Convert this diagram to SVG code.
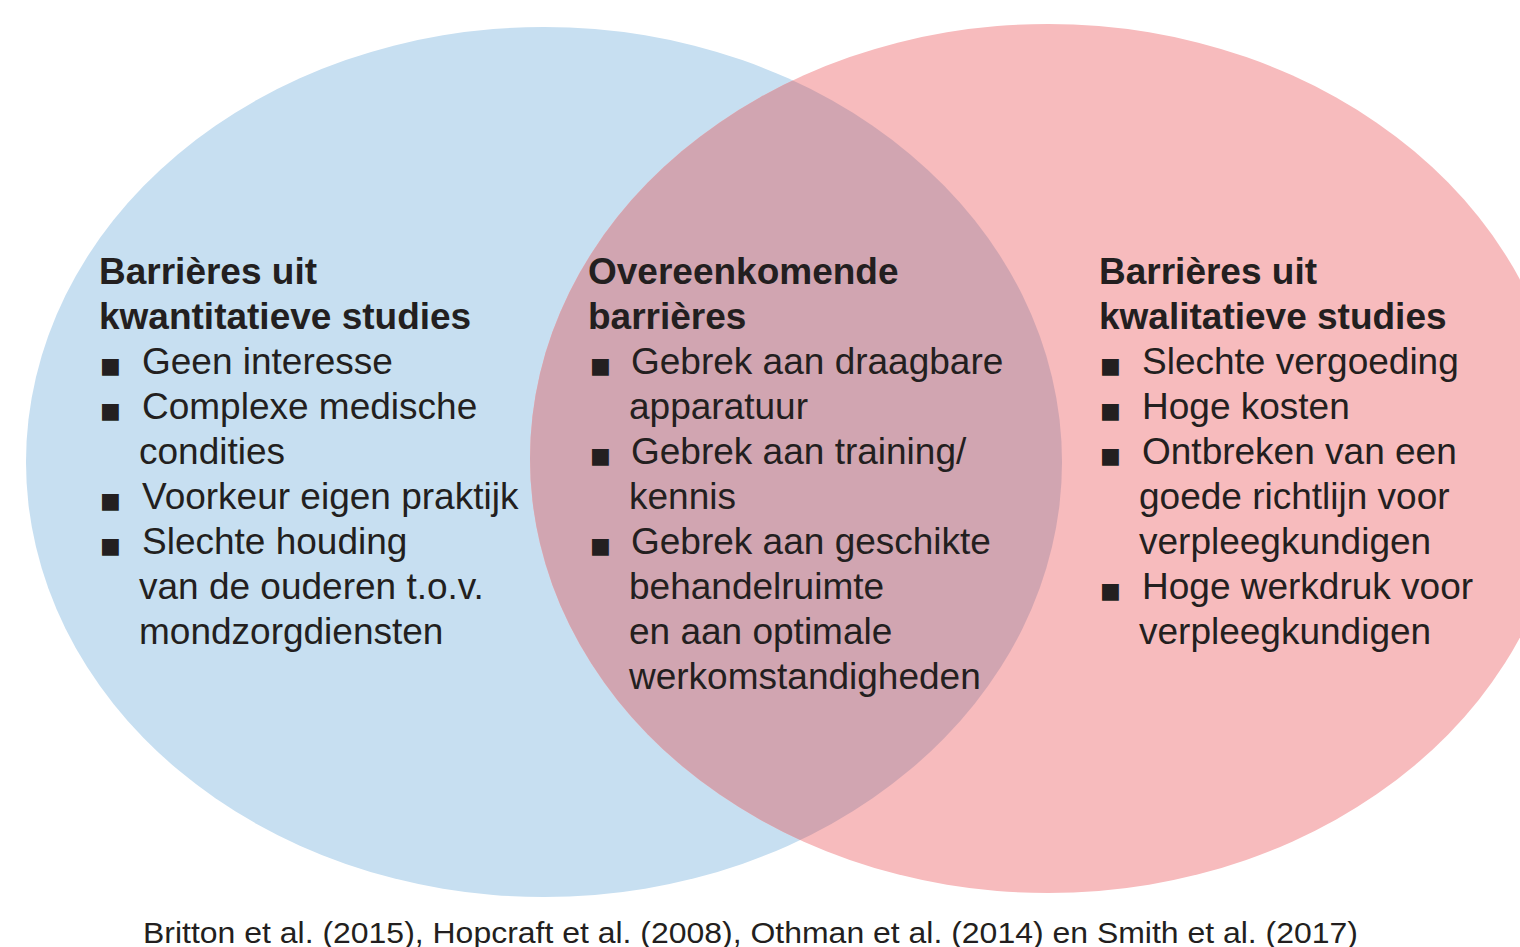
<svg xmlns="http://www.w3.org/2000/svg" width="1520" height="947" viewBox="0 0 1520 947">
<style>
text{font-family:"Liberation Sans",Arial,sans-serif;fill:#231f20}
.h{font-size:37px;font-weight:bold}
.t{font-size:37px}
.b{font-family:"DejaVu Sans",sans-serif;font-size:22px}
.c{font-size:29px}
</style>
<defs>
<clipPath id="clipL"><ellipse cx="544" cy="462" rx="518" ry="435"/></clipPath>
</defs>
<rect width="1520" height="947" fill="#ffffff"/>
<g id="set-kwantitatief"><ellipse cx="544" cy="462" rx="518" ry="435" fill="#c7dff1"/></g>
<g id="set-kwalitatief"><ellipse cx="1048" cy="458.5" rx="518" ry="434.5" fill="#f7bbbd"/></g>
<g id="overlap"><ellipse cx="1048" cy="458.5" rx="518" ry="434.5" fill="#d1a5b1" clip-path="url(#clipL)"/></g>
<g id="connectors"></g>
<g id="node-left">
<text class="h" x="99" y="284">Barrières uit</text>
<text class="h" x="99" y="329">kwantitatieve studies</text>
<text class="b" x="100" y="373">■</text><text class="t" x="142" y="374">Geen interesse</text>
<text class="b" x="100" y="418">■</text><text class="t" x="142" y="419">Complexe medische</text>
<text class="t" x="139" y="464">condities</text>
<text class="b" x="100" y="508">■</text><text class="t" x="142" y="509">Voorkeur eigen praktijk</text>
<text class="b" x="100" y="553">■</text><text class="t" x="142" y="554">Slechte houding</text>
<text class="t" x="139" y="599">van de ouderen t.o.v.</text>
<text class="t" x="139" y="644">mondzorgdiensten</text>
</g>
<g id="node-middle">
<text class="h" x="588" y="284">Overeenkomende</text>
<text class="h" x="588" y="329">barrières</text>
<text class="b" x="590" y="373">■</text><text class="t" x="631" y="374">Gebrek aan draagbare</text>
<text class="t" x="629" y="419">apparatuur</text>
<text class="b" x="590" y="463">■</text><text class="t" x="631" y="464">Gebrek aan training/</text>
<text class="t" x="629" y="509">kennis</text>
<text class="b" x="590" y="553">■</text><text class="t" x="631" y="554">Gebrek aan geschikte</text>
<text class="t" x="629" y="599">behandelruimte</text>
<text class="t" x="629" y="644">en aan optimale</text>
<text class="t" x="629" y="689">werkomstandigheden</text>
</g>
<g id="node-right">
<text class="h" x="1099" y="284">Barrières uit</text>
<text class="h" x="1099" y="329">kwalitatieve studies</text>
<text class="b" x="1100" y="373">■</text><text class="t" x="1142" y="374">Slechte vergoeding</text>
<text class="b" x="1100" y="418">■</text><text class="t" x="1142" y="419">Hoge kosten</text>
<text class="b" x="1100" y="463">■</text><text class="t" x="1142" y="464">Ontbreken van een</text>
<text class="t" x="1139" y="509">goede richtlijn voor</text>
<text class="t" x="1139" y="554">verpleegkundigen</text>
<text class="b" x="1100" y="598">■</text><text class="t" x="1142" y="599">Hoge werkdruk voor</text>
<text class="t" x="1139" y="644">verpleegkundigen</text>
</g>
<g id="caption">
<text class="c" x="143" y="943" textLength="1215" lengthAdjust="spacingAndGlyphs">Britton et al. (2015), Hopcraft et al. (2008), Othman et al. (2014) en Smith et al. (2017)</text>
</g>
</svg>
